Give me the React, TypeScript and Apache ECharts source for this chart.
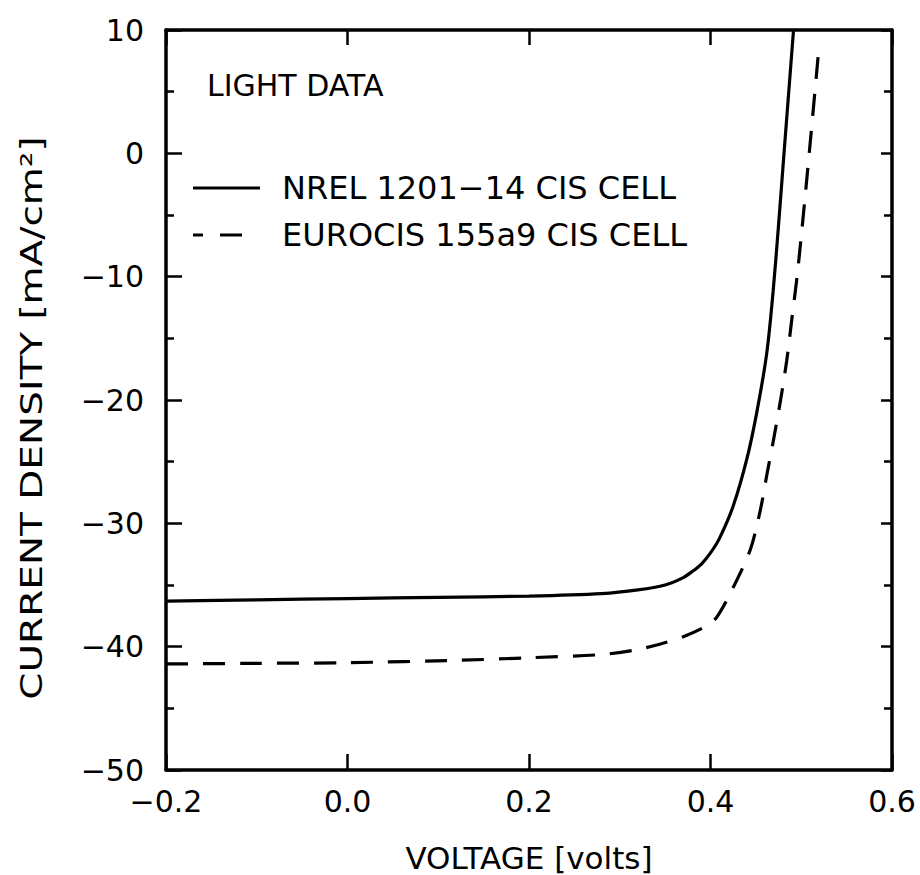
import React, { useEffect, useRef } from "react";
import * as echarts from "echarts";

// NREL 1201-14 CIS cell (solid)
const nrelVolts = [-0.2, -0.1, 0.0, 0.1, 0.2, 0.28, 0.32, 0.35, 0.37, 0.38, 0.39, 0.40, 0.41, 0.425, 0.44, 0.451, 0.462, 0.469, 0.475, 0.481, 0.4915];
const nrelCurrent = [-36.3, -36.2, -36.1, -36.0, -35.9, -35.7, -35.4, -35.0, -34.4, -33.9, -33.3, -32.4, -31.2, -28.6, -24.8, -21.0, -16.2, -11.2, -5.8, 0.0, 10.0];

// EUROCIS 155a9 CIS cell (dashed)
const euroVolts = [-0.2, -0.1, 0.0, 0.124, 0.2, 0.278, 0.315, 0.344, 0.37, 0.396, 0.407, 0.425, 0.444, 0.455, 0.462, 0.469, 0.477, 0.484, 0.490, 0.496, 0.507, 0.520];
const euroCurrent = [-41.4, -41.35, -41.3, -41.1, -40.9, -40.65, -40.3, -39.8, -39.2, -38.3, -37.6, -35.2, -32.1, -28.9, -26.1, -23.4, -20.1, -16.8, -13.2, -9.6, -1.4, 9.0];

const seriesNames = ["NREL 1201\u221214 CIS CELL", "EUROCIS 155a9 CIS CELL"];
const panelLabel = "LIGHT DATA";
const xAxisName = "VOLTAGE [volts]";
const yAxisName = "CURRENT DENSITY [mA/cm\u00B2]";

const xMin = -0.2;
const xMax = 0.6;
const xStep = 0.2;
const yMin = -50;
const yMax = 10;
const yStep = 10;

const FONT = "DejaVu Sans";
const BLACK = "#000";

const minus = (s: string) => s.replace(/-/g, "\u2212");

export default function App() {
  const ref = useRef<HTMLDivElement | null>(null);

  useEffect(() => {
    if (!ref.current) return;
    const chart = echarts.init(ref.current, undefined, { renderer: "svg" });

    const axisLine = { onZero: false, lineStyle: { color: BLACK, width: 3.5 } };

    const option: any = {
      animation: false,
      backgroundColor: "#fff",
      grid: { left: 166, right: 28, top: 30, bottom: 105, containLabel: false, outerBoundsMode: "none" },
      legend: {
        orient: "vertical",
        left: 193,
        top: 172,
        padding: 0,
        itemGap: 15,
        itemWidth: 84,
        itemHeight: 3,
        selectedMode: false,
        textStyle: { fontFamily: FONT, fontSize: 32, color: BLACK, lineHeight: 32 },
        data: [
          { name: seriesNames[0], icon: "path://M0,0H67V3H0Z M84,0L84,3" },
          { name: seriesNames[1], icon: "path://M0,0H10V3H0Z M27,0H49V3H27Z M84,0L84,3" },
        ],
      },
      xAxis: [
        {
          type: "value",
          position: "bottom",
          min: xMin,
          max: xMax,
          interval: xStep,
          axisLine,
          axisTick: { inside: true, length: 16, lineStyle: { color: BLACK, width: 2.5 } },
          splitLine: { show: false },
          axisLabel: {
            fontFamily: FONT,
            fontSize: 30,
            color: BLACK,
            margin: 16,
            formatter: (v: number) => minus((Math.abs(v) < 1e-9 ? 0 : v).toFixed(1)),
          },
          name: xAxisName,
          nameLocation: "middle",
          nameGap: 72,
          nameTextStyle: { fontFamily: FONT, fontSize: 31, color: BLACK },
        },
        {
          type: "value",
          position: "top",
          min: xMin,
          max: xMax,
          interval: xStep,
          axisLine,
          axisTick: { inside: true, length: 15, lineStyle: { color: BLACK, width: 2.5 } },
          splitLine: { show: false },
          axisLabel: { show: false },
        },
      ],
      yAxis: [
        {
          type: "value",
          position: "left",
          min: yMin,
          max: yMax,
          interval: yStep,
          axisLine,
          axisTick: { inside: true, length: 16, lineStyle: { color: BLACK, width: 2.5 } },
          minorTick: { show: true, splitNumber: 2, length: 8, lineStyle: { color: BLACK, width: 2.5 } },
          splitLine: { show: false },
          minorSplitLine: { show: false },
          axisLabel: {
            fontFamily: FONT,
            fontSize: 30,
            color: BLACK,
            margin: 22,
            formatter: (v: number) => minus(String(v)),
          },
        },
        {
          type: "value",
          position: "right",
          min: yMin,
          max: yMax,
          interval: yStep,
          axisLine,
          axisTick: { inside: true, length: 11, lineStyle: { color: BLACK, width: 2.5 } },
          minorTick: { show: true, splitNumber: 2, length: 8, lineStyle: { color: BLACK, width: 2.5 } },
          splitLine: { show: false },
          minorSplitLine: { show: false },
          axisLabel: { show: false },
        },
      ],
      graphic: [
        {
          type: "text",
          x: 207,
          y: 85,
          style: {
            text: panelLabel,
            font: `30px "${FONT}"`,
            fill: BLACK,
            textAlign: "left",
            textVerticalAlign: "middle",
          },
        },
        {
          type: "text",
          x: 32,
          y: 418,
          rotation: Math.PI / 2,
          scaleX: 1.3,
          style: {
            text: yAxisName,
            font: `30px "${FONT}"`,
            fill: BLACK,
            textAlign: "center",
            textVerticalAlign: "middle",
          },
        },
      ],
      series: [
        {
          name: seriesNames[0],
          type: "line",
          xAxisIndex: 0,
          yAxisIndex: 0,
          showSymbol: false,
          symbol: "none",
          smooth: 0.3,
          color: BLACK,
          itemStyle: { color: BLACK },
          lineStyle: { color: BLACK, width: 3.2 },
          data: nrelVolts.map((v, i) => [v, nrelCurrent[i]]),
        },
        {
          name: seriesNames[1],
          type: "line",
          xAxisIndex: 0,
          yAxisIndex: 0,
          showSymbol: false,
          symbol: "none",
          smooth: 0.3,
          color: BLACK,
          itemStyle: { color: BLACK },
          lineStyle: { color: BLACK, width: 3.2, type: [22, 15] },
          data: euroVolts.map((v, i) => [v, euroCurrent[i]]),
        },
      ],
    };

    chart.setOption(option);
    return () => chart.dispose();
  }, []);

  return (
    <div
      ref={ref}
      style={{ position: "fixed", left: 0, top: 0, width: 920, height: 875, background: "#fff" }}
    />
  );
}
